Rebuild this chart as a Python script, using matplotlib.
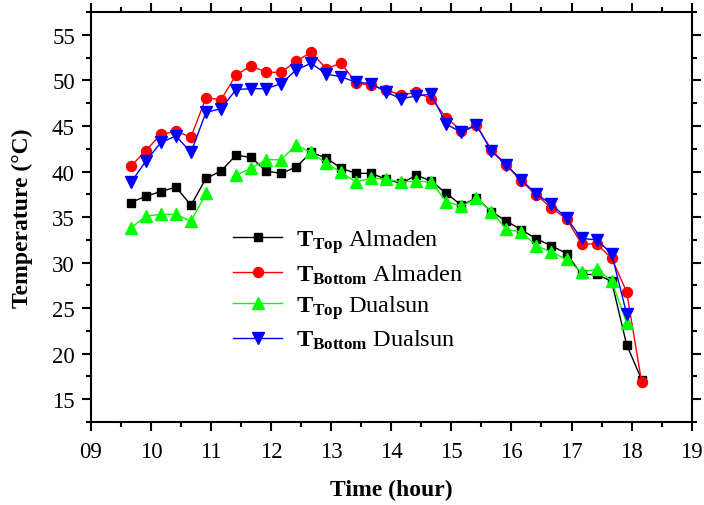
import numpy as np
import matplotlib
matplotlib.use("Agg")
import matplotlib.pyplot as plt
from matplotlib.ticker import MultipleLocator, FixedLocator

plt.rcParams['font.family'] = ['Liberation Serif', 'DejaVu Serif']
plt.rcParams['mathtext.fontset'] = 'custom'
plt.rcParams['mathtext.rm'] = 'Liberation Serif'
plt.rcParams['mathtext.bf'] = 'Liberation Serif:bold'
plt.rcParams['mathtext.it'] = 'Liberation Serif:italic'

time_h = [9.667, 9.917, 10.167, 10.417, 10.667, 10.917, 11.167, 11.417, 11.667, 11.917,
          12.167, 12.417, 12.667, 12.917, 13.167, 13.417, 13.667, 13.917, 14.167, 14.417,
          14.667, 14.917, 15.167, 15.417, 15.667, 15.917, 16.167, 16.417, 16.667, 16.917,
          17.167, 17.417, 17.667, 17.917, 18.167]

t_top_almaden = [36.6, 37.3, 37.8, 38.3, 36.3, 39.25, 40.05, 41.8, 41.55, 40.05,
                 39.8, 40.5, 42.1, 41.5, 40.35, 39.8, 39.8, 39.15, 38.7, 39.6,
                 38.95, 37.6, 36.3, 37.1, 35.6, 34.55, 33.6, 32.6, 31.85, 31.0,
                 28.7, 28.7, 27.96, 21.0, 17.15]

t_bottom_almaden = [40.6, 42.3, 44.1, 44.4, 43.8, 48.1, 47.9, 50.6, 51.6, 50.9,
                    50.9, 52.1, 53.1, 51.3, 51.9, 49.7, 49.5, 48.95, 48.4, 48.7,
                    48.0, 45.9, 44.5, 45.1, 42.4, 40.7, 38.95, 37.4, 36.0, 34.8,
                    32.05, 32.05, 30.5, 26.8, 16.9]

t_top_dualsun = [33.8, 35.1, 35.3, 35.3, 34.55, 37.6, np.nan, 39.6, 40.35, 41.3,
                 41.3, 42.9, 42.1, 40.9, 39.9, 38.85, 39.3, 39.15, 38.85, 38.95,
                 38.85, 36.7, 36.2, 37.05, 35.6, 33.65, 33.35, 31.85, 31.15, 30.35,
                 28.95, 29.3, 28.0, 23.4]

t_bottom_dualsun = [38.8, 41.15, 43.2, 43.9, 42.1, 46.5, 46.9, 49.0, 49.1, 49.1,
                    49.65, 51.15, 51.9, 50.7, 50.4, 49.8, 49.65, 48.7, 48.0, 48.3,
                    48.5, 45.2, 44.3, 45.1, 42.25, 40.7, 39.1, 37.5, 36.4, 34.9,
                    32.65, 32.5, 31.0, 24.4]

x_ticks = [9, 10, 11, 12, 13, 14, 15, 16, 17, 18, 19]
x_tick_labels = ['09', '10', '11', '12', '13', '14', '15', '16', '17', '18', '19']
y_ticks = [15, 20, 25, 30, 35, 40, 45, 50, 55]

labels = [r'$\mathbf{T_{Top}}$ Almaden', r'$\mathbf{T_{Bottom}}$ Almaden',
          r'$\mathbf{T_{Top}}$ Dualsun', r'$\mathbf{T_{Bottom}}$ Dualsun']

fig = plt.figure(figsize=(7.04, 5.06), dpi=100)
ax = fig.add_axes([0.129, 0.164, 0.8535, 0.81])

lw = 1.0
ax.plot(time_h, t_top_almaden, color='black', lw=lw, marker='s', ms=5.6,
        mfc='black', mec='black', label=labels[0])
ax.plot(time_h, t_bottom_almaden, color='#ff0000', lw=lw, marker='o', ms=7.2,
        mfc='#ff0000', mec='#ff0000', label=labels[1])
ax.plot(time_h[:len(t_top_dualsun)], t_top_dualsun, color='#00ff00', lw=lw, marker='^', ms=8.0,
        mfc='#00ff00', mec='#00ff00', label=labels[2])
ax.plot(time_h[:len(t_bottom_dualsun)], t_bottom_dualsun, color='#0000ff', lw=lw, marker='v', ms=8.0,
        mfc='#0000ff', mec='#0000ff', label=labels[3])

ax.set_xlim(9, 19)
ax.set_ylim(12.5, 57.5)
ax.xaxis.set_major_locator(FixedLocator(x_ticks))
ax.set_xticklabels(x_tick_labels)
ax.xaxis.set_minor_locator(MultipleLocator(0.5))
ax.yaxis.set_major_locator(FixedLocator(y_ticks))
ax.yaxis.set_minor_locator(MultipleLocator(2.5))

for s in ax.spines.values():
    s.set_linewidth(1.5)
ax.tick_params(which='both', direction='out', top=True, right=True, width=1.5)
ax.tick_params(which='major', length=6.5, labelsize=16.5)
ax.tick_params(axis='x', which='major', pad=7)
ax.tick_params(axis='y', which='major', pad=5)
ax.tick_params(which='minor', length=3.5)

ax.set_xlabel('Time (hour)', fontsize=17, fontweight='bold', labelpad=12)
ax.set_ylabel('Temperature (°C)', fontsize=17, fontweight='bold', labelpad=14)

leg = ax.legend(loc='upper left', bbox_to_anchor=(0.237, 0.475), frameon=False,
                fontsize=17.5, handlelength=2.0, handletextpad=0.6,
                labelspacing=0.3, borderpad=0.0, borderaxespad=0.0)

fig.savefig('out.png', dpi=100)
